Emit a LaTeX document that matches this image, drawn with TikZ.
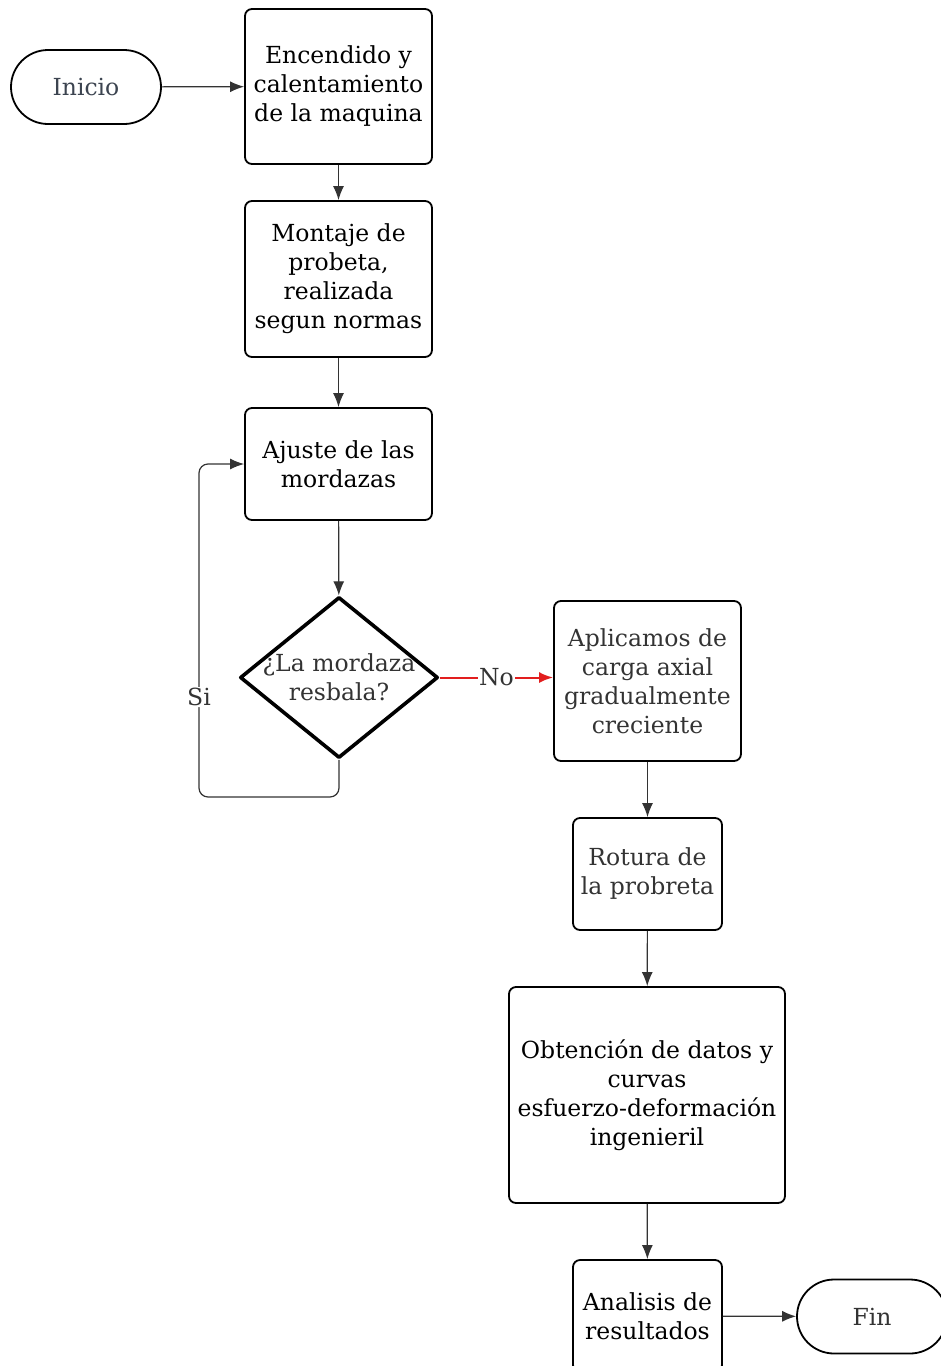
\documentclass[tikz,border=0pt]{standalone}
\usepackage{fontspec}
\setmainfont{DejaVu Serif}
\usetikzlibrary{shapes.geometric,arrows.meta}
\definecolor{rouge}{RGB}{226,30,30}
\definecolor{ardoise}{RGB}{60,68,80}
\definecolor{gris}{RGB}{51,51,51}
\newcommand{\larg}{187}
\tikzstyle{texte}=[font=\fontsize{23.5}{29}\selectfont, align=center]
\tikzstyle{boite}=[texte, draw, line width=1.8pt, rounded corners=7pt, inner sep=0pt]
\tikzstyle{borne}=[boite, rounded corners=37pt, minimum width=150pt, minimum height=74pt]
\tikzstyle{losange}=[diamond, draw, line width=3.6pt, line join=round, inner sep=0pt]
\tikzstyle{fleche}=[-{Latex[length=14pt,width=11pt]}, line width=1.2pt, gris]
\tikzstyle{etiq}=[texte, fill=white, inner sep=1pt, text=gris]
\begin{document}
\begin{tikzpicture}[x=1pt,y=-1pt]
\useasboundingbox (0,0) rectangle (941,1366);

% colonne de gauche
\node[borne, text=ardoise] (ini) at (86,87) {Inicio};
\node[boite, minimum width=\larg, minimum height=155] (enc) at (338.5,86.5) {Encendido y\\calentamiento\\de la maquina};
\node[boite, minimum width=\larg, minimum height=156] (mon) at (338.5,279) {Montaje de\\probeta,\\realizada\\segun normas};
\node[boite, minimum width=\larg, minimum height=112] (aju) at (338.5,464) {Ajuste de las\\mordazas};
\node[losange, minimum width=198, minimum height=161,
  label={[texte, text=gris]center:¿La mordaza\\resbala?}] (dia) at (339,677.5) {};
\coordinate (coin) at (199,797);

% colonne de droite
\node[boite, text=gris, minimum width=\larg, minimum height=160] (apl) at (647.5,681) {Aplicamos de\\carga axial\\gradualmente\\creciente};
\node[boite, text=gris, minimum width=149, minimum height=112] (rot) at (647.5,874) {Rotura de\\la probreta};
\node[boite, minimum width=276, minimum height=216] (obt) at (647,1095) {Obtención de datos y\\curvas\\esfuerzo-deformación\\ingenieril};
\node[boite, minimum width=149, minimum height=112] (ana) at (647.5,1316) {Analisis de\\resultados};
\node[borne, text=gris] (fin) at (872,1316.5) {Fin};

% fleches
\draw[fleche] (ini) -- (enc);
\draw[fleche] (enc) -- (mon);
\draw[fleche] (mon) -- (aju);
\draw[fleche] (aju) -- (dia);
\draw[fleche, rounded corners=9pt] (dia.south) |- (coin) |- node[etiq, pos=0.15] {Si} (aju.west);
\draw[fleche, draw=rouge, fill=rouge, line width=2pt] (dia.east) -- node[etiq] {No} (dia.east -| apl.west);
\draw[fleche] (apl) -- (rot);
\draw[fleche] (rot) -- (obt);
\draw[fleche] (obt) -- (ana);
\draw[fleche] (ana) -- (fin);
\end{tikzpicture}
\end{document}
